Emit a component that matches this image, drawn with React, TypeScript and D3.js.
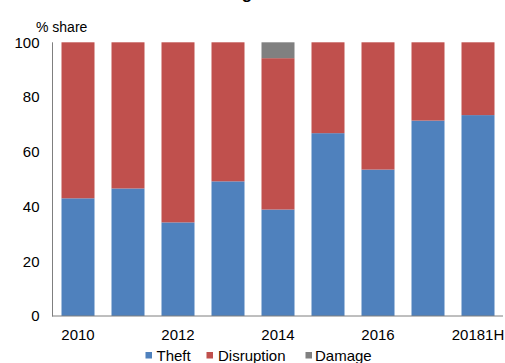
import React from "react";
import * as d3 from "d3";

// Category labels along the x axis (one bar per period)
const periods = ["2010", "2011", "2012", "2013", "2014", "2015", "2016", "2017", "20181H"];
// Which periods get a visible tick label
const shownLabels = ["2010", "2012", "2014", "2016", "20181H"];

// Share of incidents by cause, % of total
const theft = [43.0, 46.6, 34.2, 49.2, 38.9, 66.8, 53.5, 71.4, 73.4];
const disruption = [57.0, 53.4, 65.8, 50.8, 55.3, 33.2, 46.5, 28.6, 26.6];
const damage = [0, 0, 0, 0, 5.8, 0, 0, 0, 0];

const seriesNames = ["Theft", "Disruption", "Damage"];
const seriesColors = ["#4F81BD", "#C0504D", "#808080"];
const yTicks = [0, 20, 40, 60, 80, 100];

const W = 505;
const H = 363;
const FONT = "'Liberation Sans', Arial, Helvetica, sans-serif";

export default function App() {
  const rows = periods.map((p, i) => ({
    period: p,
    Theft: theft[i],
    Disruption: disruption[i],
    Damage: damage[i],
  }));

  const stacked = d3.stack<any>().keys(seriesNames)(rows);

  const x = d3
    .scaleBand<string>()
    .domain(periods)
    .range([53, 503])
    .paddingInner(0.34)
    .paddingOuter(0.17);

  const y = d3.scaleLinear().domain([0, 100]).range([316, 42.3]);

  const color = d3.scaleOrdinal<string, string>().domain(seriesNames).range(seriesColors);

  const legendItems = [
    { name: "Theft", sq: 145.5, tx: 156.5 },
    { name: "Disruption", sq: 206.5, tx: 218 },
    { name: "Damage", sq: 305.5, tx: 315 },
  ];

  return (
    <svg
      width={W}
      height={H}
      style={{ position: "absolute", left: 0, top: 0, background: "#fff" }}
      fontFamily={FONT}
    >
      {/* title, sitting above the top edge so only its descenders show */}
      <text x={237} y={-0.6} textAnchor="middle" fontSize={17} fontWeight="bold" fill="#000">
        Outages
      </text>

      <text x={36} y={31.5} fontSize={14} fill="#000">
        % share
      </text>

      {/* bars */}
      {stacked.map((layer) => (
        <g key={layer.key} fill={color(layer.key)}>
          {layer.map((d, i) =>
            d[1] - d[0] > 0 ? (
              <rect
                key={i}
                x={x(periods[i])}
                width={x.bandwidth()}
                y={y(d[1])}
                height={y(d[0]) - y(d[1])}
              />
            ) : null
          )}
        </g>
      ))}

      {/* axes */}
      <line x1={52.5} x2={52.5} y1={y(100)} y2={316.5} stroke="#7f7f7f" strokeWidth={1} />
      <line x1={52} x2={503} y1={316} y2={316} stroke="#7f7f7f" strokeWidth={1} />

      {yTicks.map((t) => (
        <text
          key={t}
          x={39.5}
          y={y(t)}
          dy="0.36em"
          textAnchor="end"
          fontSize={15}
          fill="#000"
        >
          {t}
        </text>
      ))}

      {shownLabels.map((p) => (
        <text
          key={p}
          x={(x(p) as number) + x.bandwidth() / 2}
          y={340}
          textAnchor="middle"
          fontSize={15}
          fill="#000"
        >
          {p}
        </text>
      ))}

      {/* legend */}
      {legendItems.map((it) => (
        <g key={it.name}>
          <rect x={it.sq} y={352} width={6.5} height={6.5} fill={color(it.name)} />
          <text x={it.tx} y={360.7} fontSize={15} fill="#000">
            {it.name}
          </text>
        </g>
      ))}
    </svg>
  );
}
